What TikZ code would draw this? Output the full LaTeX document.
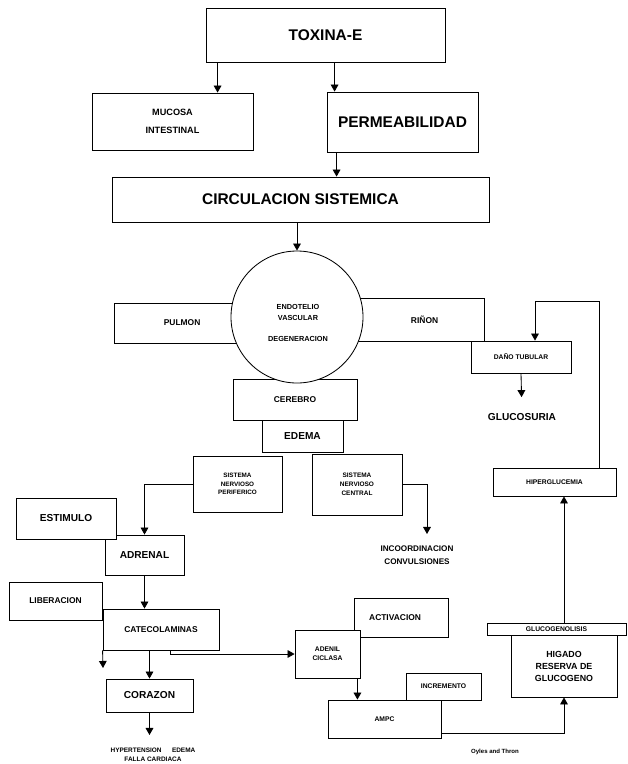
\documentclass[tikz,border=0pt]{standalone}
\usepackage{fontspec}
\setmainfont{Liberation Sans}
\usetikzlibrary{calc,arrows.meta}
\def\fs#1#2{\fontsize{#1}{#2}\selectfont\bfseries}

\begin{document}
\begin{tikzpicture}[x=0.025cm, y=-0.025cm,
		box/.style 2 args={draw, fill=white, line width=0.6pt, inner sep=0pt, align=center,
			minimum width=#1*0.025cm, minimum height=#2*0.025cm},
		txt/.style={inner sep=0pt, align=center},
		big/.style={font=\fs{11}{13}},
		mid/.style={font=\fs{7.2}{9}},
		sml/.style={font=\fs{6}{8}},
		tny/.style={font=\fs{4.8}{6.5}},
		arr/.style={line width=0.6pt, -{Triangle[width=5.5pt,length=5pt]}},
		lin/.style={line width=0.6pt}]
		%%%%% START %%%%%
		\useasboundingbox (0,0) rectangle (628,764);
		
		\node[box={239}{54}, big] (toxina) at (325.5,35) {TOXINA-E};
		\node[box={161}{57}, font=\fs{6.5}{13}] (mucosa) at (172.5,121.5) {MUCOSA\\INTESTINAL};
		\node[box={151}{60}, big] (perm) at (402.5,122) {PERMEABILIDAD};
		\node[box={377}{45}, big] (circ) at (300.5,199.5) {CIRCULACION SISTEMICA};
		
		\draw[arr] ($(toxina.south west)+(12,0)$) coordinate (t1) -- (t1 |- mucosa.north);
		\draw[arr] ($(toxina.south west)+(129,0)$) coordinate (t2) -- (t2 |- perm.north);
		\draw[arr] ($(perm.south west)+(10,0)$) coordinate (p1) -- (p1 |- circ.north);
		
		% organos alrededor del endotelio
		\node[box={126}{40}, sml] (pulmon) at (177,323) {\hspace*{1.2em}PULMON};
		\node[box={129}{43}, sml] (rinon) at (419.5,319.5) {\hspace*{1.2em}RIÑON};
		\node[box={124}{41}, sml] (cerebro) at (295,399.5) {CEREBRO};
		\node[draw, fill=white, line width=0.6pt, circle, minimum size=132*0.025cm] (endo) at (297,317) {};
		\node[txt, font=\fs{5.2}{7.6}] (endotxt) at (298,323) {ENDOTELIO\\VASCULAR\\[7.5pt]DEGENERACION};
		\draw[arr] (circ.south -| endo.north) -- (endo.north);
		
		\node[box={81}{32}, mid] (edema) at (302.5,436) {EDEMA};
		\node[box={100}{32}, tny] (dano) at (521,357) {DAÑO TUBULAR};
		\node[txt, mid] (glucos) at (522,417) {GLUCOSURIA};
		\draw[arr, shorten >=0.4cm] (dano.south) -- (glucos.north);
		
		\node[box={123}{28}, tny] (hiper) at (554.5,482) {HIPERGLUCEMIA};
		\draw[arr] ($(hiper.north east)+(-17,0)$) |- ($(dano.north)+(14,-39)$) coordinate (d1) -- (d1 |- dano.north);
		
		% sistema nervioso
		\node[box={89}{56}, font=\fs{4.5}{6.2}] (snp) at (237.5,484) {SISTEMA\\NERVIOSO\\PERIFERICO};
		\node[box={90}{61}, font=\fs{4.6}{6.4}] (snc) at (357,484.5) {SISTEMA\\NERVIOSO\\CENTRAL};
		\node[txt, font=\fs{5.8}{8.8}] (incoord) at (417,555) {INCOORDINACION\\CONVULSIONES};
		\coordinate (incarr) at (427,534);
		\draw[arr] (snc.east) -| (incarr);
		
		\node[box={79}{40}, mid] (adrenal) at (144.5,555) {ADRENAL};
		\node[box={100}{41}, mid] (estimulo) at (66,518.5) {ESTIMULO};
		\draw[arr] (snp.west) -| (adrenal.north);
		
		\node[box={93}{38}, sml] (liber) at (55.5,601) {LIBERACION};
		\node[box={116}{41}, sml] (catecol) at (161,629.5) {CATECOLAMINAS};
		\draw[arr] (adrenal.south) -- (adrenal.south |- catecol.north);
		\coordinate (catfree) at (103,668);
		\draw[arr] (catecol.south west) -- (catfree);
		
		\node[box={87}{33}, mid] (corazon) at (149.5,695.5) {CORAZON};
		\node[txt, font=\fs{4.6}{6.4}] (hypert) at (153,755) {HYPERTENSION\hspace*{1.6em}EDEMA\\FALLA CARDIACA};
		\draw[arr] (corazon.north |- catecol.south) -- (corazon.north);
		\coordinate (corfree) at (149.5,735);
		\draw[arr] (corazon.south) -- (corfree);
		
		% cascada del AMPc
		\node[box={94}{39}, sml] (activ) at (401,617.5) {ACTIVACION\hspace*{1.4em}};
		\node[box={65}{48}, font=\fs{4.8}{6.5}] (adenil) at (327.5,654) {ADENIL\\CICLASA};
		\node[box={75}{27}, tny] (incr) at (443.5,686.5) {INCREMENTO};
		\node[box={113}{38}, tny] (ampc) at (384.5,719) {AMPC};
		\draw[arr] ($(catecol.south west)+(68,0)$) |- (adenil.west);
		\draw[arr] ($(adenil.south east)+(-3,0)$) coordinate (a1) -- (a1 |- ampc.north);
		
		\node[box={139}{12}, tny] (glucog) at (556.5,629) {GLUCOGENOLISIS};
		\node[box={106}{62}, font=\fs{6.3}{8.5}] (higado) at (564,666) {HIGADO\\RESERVA DE\\GLUCOGENO};
		\draw[arr] ($(ampc.south east)+(0,-5)$) -| (higado.south);
		\draw[arr] (higado.north |- glucog.north) -- (higado.north |- hiper.south);
		
		\node[txt, font=\fs{4.3}{5}] (cita) at (495,752) {Oyles and Thron};
		
		%%%%% END %%%%%
\end{tikzpicture}
\end{document}
